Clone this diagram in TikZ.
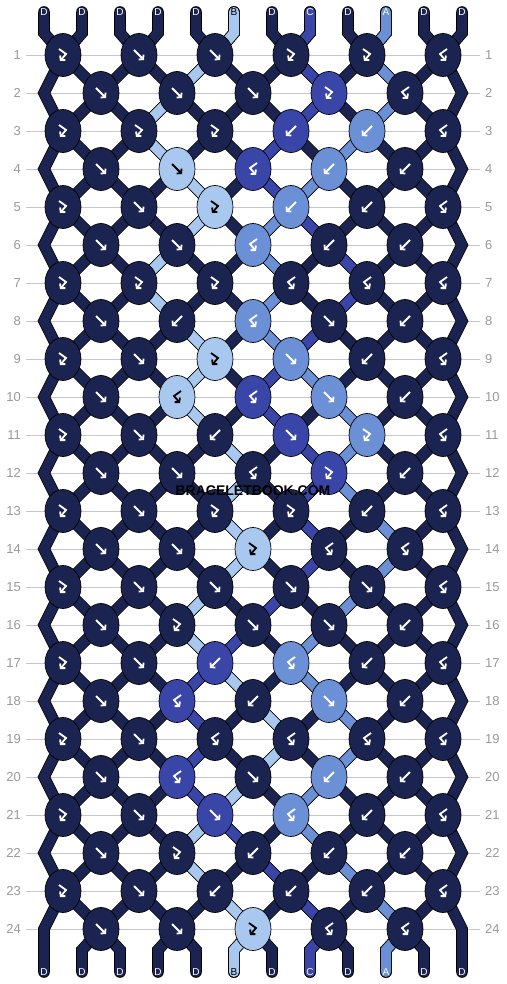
\documentclass[tikz,border=0pt]{standalone}
\usepackage{fontspec}
\setmainfont{Liberation Sans}
\usepackage{pdfrender}
\usetikzlibrary{shapes.geometric,arrows.meta}

\definecolor{colD}{HTML}{1B2450}
\definecolor{colB}{HTML}{A8C8F0}
\definecolor{colC}{HTML}{3A45A8}
\definecolor{colA}{HTML}{6B90D5}
\colorlet{icoD}{white}
\colorlet{icoB}{black}
\colorlet{icoC}{white}
\colorlet{icoA}{white}

\pgfdeclarelayer{guides}
\pgfdeclarelayer{threads}
\pgfsetlayers{guides,threads,main}

\tikzset{
  knotnode/.style={ellipse, draw=black, line width=0.7pt, fill=col#1,
    minimum width=36pt, minimum height=43pt, inner sep=0pt},
  thread/.style={draw=black, line width=0.8pt, double=col#1,
    double distance=10pt, line cap=round, line join=miter},
  strlabel/.style={text=ico#1, font=\fontsize{10}{10}\selectfont, inner sep=0pt},
  rownum/.style={text=black!40, font=\fontsize{13}{13}\selectfont, inner sep=5pt},
  rowline/.style={draw=black!22, line width=0.8pt},
  arr/.style={line width=1.8pt, -{Straight Barb[length=3pt,width=7pt]}},
  pics/f/.style={code={\draw[arr] (-5,-5) -- (5,5);}},
  pics/b/.style={code={\draw[arr] (5,-5) -- (-5,5);}},
  pics/fb/.style={code={\draw[arr] (-4,-6) -- (3,-1) -- (-3,6);}},
  pics/bf/.style={code={\draw[arr] (4,-6) -- (-3,-1) -- (3,6);}},
}

% one row of knots: row number, list of type/colour
\newcommand\knotrow[2]{%
  \foreach \ty/\cl [count=\n from 0] in {#2} {
    \pgfmathtruncatemacro\kj{2*\n+1-mod(#1,2)}
    \node[knotnode=\cl] (k#1-\kj) at ({63+38*\kj},{17+38*#1}) {};
    \pic[color=ico\cl] at (k#1-\kj) {\ty};
  }
}
% one coloured thread: colour, start column, knots it runs through
\newcommand\strand[3]{%
  \draw[thread=#1] (top#2.center) -- (t#2)
    \foreach \sj [count=\sr] in {#3} { -- (k\sr-\sj.center) }
    -- (m#2) -- (bot#2.center);
}

\begin{document}
\begin{tikzpicture}[x=1pt,y=-1pt]
  \useasboundingbox (0,0) rectangle (506,984);

  % row numbers
  \foreach \r in {1,...,24} {
    \node[rownum, anchor=east] (nl\r) at (26,{17+38*\r}) {\r};
    \node[rownum, anchor=west] (nr\r) at (480,{17+38*\r}) {\r};
    \begin{pgfonlayer}{guides}
      \draw[rowline] (nl\r) -- (nr\r);
    \end{pgfonlayer}
  }

  % thread ends
  \foreach \cl [count=\i from 0] in {D,D,D,D,D,B,D,C,D,A,D,D} {
    \node[strlabel=\cl] (top\i) at ({44+38*\i},12) {\cl};
    \node[strlabel=\cl] (bot\i) at ({44+38*\i},972) {\cl};
    \coordinate (t\i) at ({44+38*\i},33);
    \coordinate (m\i) at ({44+38*\i},950);
  }
  % turning points at the edges, below each odd row
  \foreach \r in {1,3,...,23} {
    \coordinate (eL\r) at (44,{55+38*\r});
    \coordinate (eR\r) at (462,{55+38*\r});
  }

  % knots
  \knotrow{1}{fb/D,f/D,f/D,fb/D,fb/D,bf/D}
  \knotrow{2}{f/D,f/D,f/D,fb/C,bf/D}
  \knotrow{3}{fb/D,fb/D,fb/D,b/C,b/A,bf/D}
  \knotrow{4}{f/D,f/B,bf/C,b/A,b/D}
  \knotrow{5}{fb/D,f/D,fb/B,b/A,b/D,bf/D}
  \knotrow{6}{f/D,f/D,bf/A,b/D,b/D}
  \knotrow{7}{fb/D,fb/D,fb/D,bf/D,bf/D,bf/D}
  \knotrow{8}{f/D,b/D,bf/A,f/D,b/D}
  \knotrow{9}{fb/D,f/D,fb/B,f/A,b/D,bf/D}
  \knotrow{10}{f/D,bf/B,bf/C,f/A,b/D}
  \knotrow{11}{fb/D,f/D,b/D,f/C,fb/A,bf/D}
  \knotrow{12}{f/D,f/D,bf/D,fb/C,b/D}
  \knotrow{13}{fb/D,f/D,fb/D,fb/D,b/D,bf/D}
  \knotrow{14}{f/D,f/D,fb/B,bf/D,bf/D}
  \knotrow{15}{fb/D,f/D,f/D,f/D,f/D,bf/D}
  \knotrow{16}{f/D,fb/D,f/D,f/D,b/D}
  \knotrow{17}{fb/D,f/D,b/C,bf/A,b/D,bf/D}
  \knotrow{18}{f/D,bf/C,b/D,f/A,b/D}
  \knotrow{19}{fb/D,f/D,bf/D,bf/D,bf/D,bf/D}
  \knotrow{20}{f/D,bf/C,f/D,b/A,b/D}
  \knotrow{21}{fb/D,f/D,f/C,bf/A,b/D,bf/D}
  \knotrow{22}{f/D,fb/D,b/D,b/D,b/D}
  \knotrow{23}{fb/D,f/D,b/D,b/D,b/D,bf/D}
  \knotrow{24}{f/D,f/D,fb/B,bf/D,bf/D}

  \begin{pgfonlayer}{threads}
    % dark threads everywhere
    \foreach \i in {1,...,10} {
      \pgfmathtruncatemacro\jt{2*floor(\i/2)}
      \pgfmathtruncatemacro\jb{2*floor((\i-1)/2)+1}
      \draw[thread=D] (top\i.center) -- (t\i) -- (k1-\jt.center);
      \draw[thread=D] (k24-\jb.center) -- (m\i) -- (bot\i.center);
    }
    \foreach \r in {1,...,23} {
      \pgfmathtruncatemacro\s{\r+1}
      \foreach \n in {0,...,5} {
        \pgfmathtruncatemacro\j{2*\n+1-mod(\r,2)}
        \pgfmathtruncatemacro\jl{\j-1}
        \pgfmathtruncatemacro\jr{\j+1}
        \ifnum\j>0 \ifnum\j<11
          \draw[thread=D] (k\r-\j.center) -- (k\s-\jl.center);
        \fi\fi
        \ifnum\j<10
          \draw[thread=D] (k\r-\j.center) -- (k\s-\jr.center);
        \fi
      }
    }
    \draw[thread=D] (top0.center) -- (t0)
      \foreach \r in {1,3,...,23} { -- (k\r-0.center) -- (eL\r) }
      -- (bot0.center);
    \draw[thread=D] (top11.center) -- (t11)
      \foreach \r in {1,3,...,23} { -- (k\r-10.center) -- (eR\r) }
      -- (bot11.center);

    % coloured threads
    \strand{B}{5}{4,3,2,3,4,3,2,3,4,3,4,5,4,5,4,3,4,5,6,5,4,3,4,5}
    \strand{C}{7}{6,7,6,5,6,7,8,7,6,5,6,7,6,7,6,5,4,3,4,3,4,5,6,7}
    \strand{A}{9}{8,9,8,7,6,5,6,5,6,7,8,7,8,9,8,7,6,7,8,7,6,7,8,9}
  \end{pgfonlayer}

  \node[font=\bfseries\fontsize{14}{14}\selectfont] (mark) at (253,491)
    {\textpdfrender{TextRenderingMode=FillStroke, LineWidth=1.2pt,
      StrokeColor=white, FillColor=black!65}{BRACELETBOOK.COM}};
\end{tikzpicture}
\end{document}
